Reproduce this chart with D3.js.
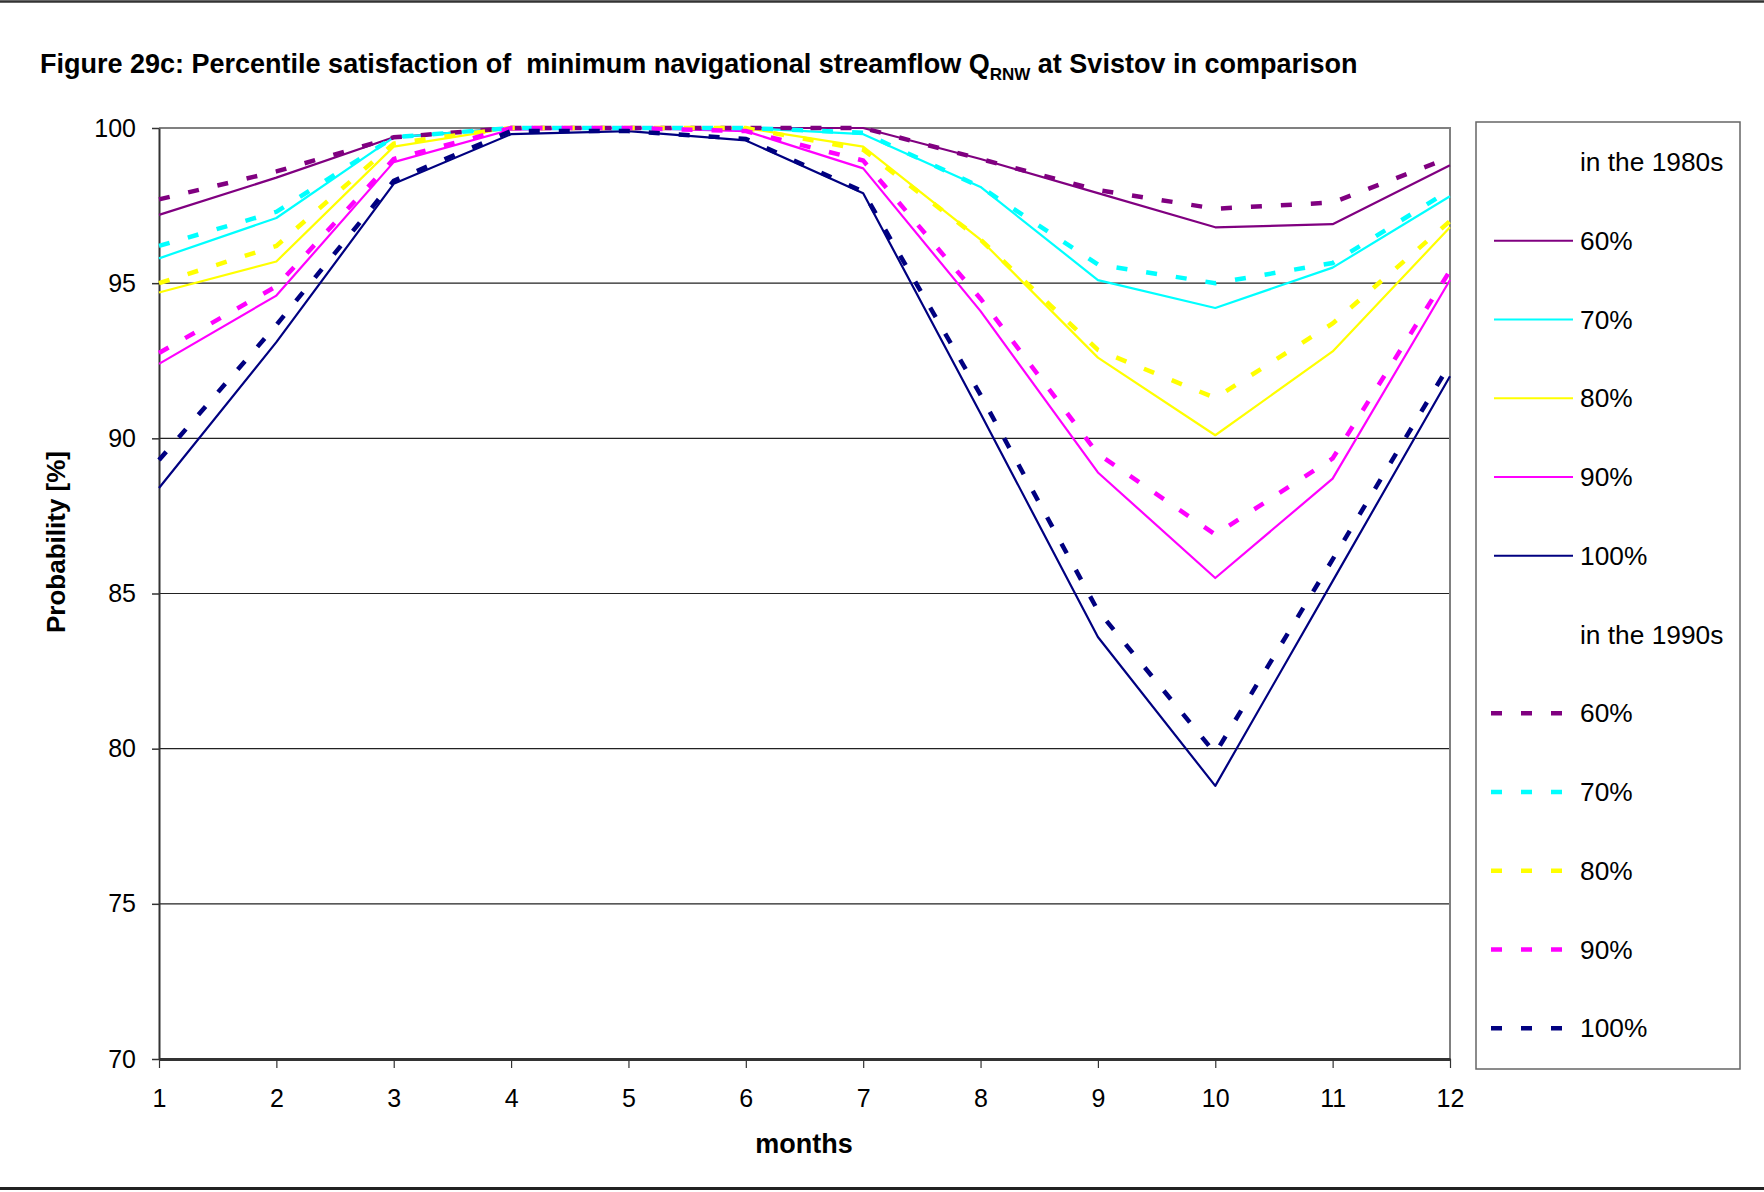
<!DOCTYPE html>
<meta charset="utf-8">
<head>
<title>Figure 29c</title>
<style>
body { margin: 0; background: #fff; }
svg text { font-family: "Liberation Sans", Arial, sans-serif; fill: #000; }
.axis path, .axis line { stroke: #333; }
</style>
</head>
<body>
<div id="chart"></div>
<script src="https://cdnjs.cloudflare.com/ajax/libs/d3/7.8.5/d3.min.js"></script>
<script>
var months = [1, 2, 3, 4, 5, 6, 7, 8, 9, 10, 11, 12];
var yTicks = [70, 75, 80, 85, 90, 95, 100];
var percentiles = ["60%", "70%", "80%", "90%", "100%"];
var colors = ["#800080", "#00ffff", "#ffff00", "#ff00ff", "#000080"];

// 1980s (solid)
var s80_60 = [97.2, 98.4, 99.7, 100, 100, 100, 100, 99.0, 97.9, 96.8, 96.9, 98.8];
var s80_70 = [95.8, 97.1, 99.7, 100, 100, 100, 99.8, 98.1, 95.1, 94.2, 95.5, 97.8];
var s80_80 = [94.7, 95.7, 99.4, 100, 100, 100, 99.4, 96.4, 92.6, 90.1, 92.8, 96.8];
var s80_90 = [92.4, 94.6, 98.9, 99.95, 100, 99.9, 98.7, 94.1, 88.9, 85.5, 88.7, 95.1];
var s80_100 = [88.4, 93.1, 98.2, 99.8, 99.9, 99.6, 97.9, 90.8, 83.6, 78.8, 85.4, 92.0];
// 1990s (dashed)
var s90_60 = [97.7, 98.6, 99.7, 100, 100, 100, 100, 99.0, 98.0, 97.4, 97.6, 99.05];
var s90_70 = [96.2, 97.3, 99.7, 100, 100, 100, 99.85, 98.1, 95.6, 95.0, 95.65, 98.0];
var s90_80 = [95.0, 96.2, 99.5, 100, 100, 100, 99.3, 96.4, 92.85, 91.3, 93.7, 97.0];
var s90_90 = [92.75, 94.9, 99.0, 100, 100, 99.9, 98.95, 94.5, 89.5, 86.9, 89.35, 95.4];
var s90_100 = [89.3, 93.65, 98.3, 99.9, 99.9, 99.65, 97.95, 91.4, 84.45, 79.85, 86.1, 92.4];

var series80 = [s80_60, s80_70, s80_80, s80_90, s80_100];
var series90 = [s90_60, s90_70, s90_80, s90_90, s90_100];

var width = 1764, height = 1192;
var plotLeft = 159, plotTop = 128, plotRight = 1450, plotBottom = 1059;

var svg = d3.select("#chart").append("svg")
    .attr("width", width)
    .attr("height", height);

svg.append("rect").attr("width", width).attr("height", height).attr("fill", "#fff");

// page rules
svg.append("line").attr("x1", 0).attr("x2", width).attr("y1", 1.5).attr("y2", 1.5)
    .attr("stroke", "#333").attr("stroke-width", 2.5);
svg.append("line").attr("x1", 0).attr("x2", width).attr("y1", 1188.5).attr("y2", 1188.5)
    .attr("stroke", "#222").attr("stroke-width", 3);

// title
var title = svg.append("text")
    .attr("x", 40).attr("y", 73)
    .style("font-size", "27px").style("font-weight", "bold")
    .style("white-space", "pre");
title.append("tspan").text("Figure 29c: Percentile satisfaction of  minimum navigational streamflow Q");
title.append("tspan").attr("dy", 7).style("font-size", "17px").text("RNW");
title.append("tspan").attr("dy", -7).text(" at Svistov in comparison");

var x = d3.scaleLinear().domain([1, 12]).range([plotLeft, plotRight]);
var y = d3.scaleLinear().domain([70, 100]).range([plotBottom, plotTop]);

// gridlines
svg.append("g").selectAll("line")
    .data(yTicks.filter(function(d) { return d > 70 && d < 100; }))
    .enter().append("line")
    .attr("x1", plotLeft).attr("x2", plotRight)
    .attr("y1", function(d) { return y(d); }).attr("y2", function(d) { return y(d); })
    .attr("stroke", "#222").attr("stroke-width", 1.2);

// plot frame (top and right grey)
svg.append("path")
    .attr("d", "M" + plotLeft + "," + plotTop + "H" + plotRight + "V" + plotBottom)
    .attr("fill", "none").attr("stroke", "#808080").attr("stroke-width", 2);

// y axis
var yAxis = svg.append("g").attr("class", "axis")
    .attr("transform", "translate(" + plotLeft + ",0)")
    .call(d3.axisLeft(y).tickValues(yTicks).tickSize(7).tickPadding(16).tickSizeOuter(0));
yAxis.select(".domain").attr("stroke", "#444").attr("stroke-width", 2);
yAxis.selectAll(".tick line").attr("stroke", "#444").attr("stroke-width", 1.5);
yAxis.selectAll("text").style("font-size", "25px").attr("fill", "#000");

// x axis
var xAxis = svg.append("g").attr("class", "axis")
    .attr("transform", "translate(0," + plotBottom + ")")
    .call(d3.axisBottom(x).tickValues(months).tickSize(9).tickPadding(21).tickSizeOuter(0));
xAxis.select(".domain").attr("stroke", "#555").attr("stroke-width", 3);
xAxis.selectAll(".tick line").attr("stroke", "#444").attr("stroke-width", 1.2);
xAxis.selectAll("text").style("font-size", "25px").attr("fill", "#000");

// axis titles
svg.append("text")
    .attr("x", 804).attr("y", 1153)
    .attr("text-anchor", "middle")
    .style("font-size", "27px").style("font-weight", "bold")
    .text("months");
svg.append("text")
    .attr("transform", "translate(65,542) rotate(-90)")
    .attr("text-anchor", "middle")
    .style("font-size", "26px").style("font-weight", "bold")
    .text("Probability [%]");

var line = d3.line()
    .x(function(d, i) { return x(months[i]); })
    .y(function(d) { return y(d); });

var plot = svg.append("g");
series80.forEach(function(s, i) {
    plot.append("path")
        .attr("d", line(s))
        .attr("fill", "none")
        .attr("stroke", colors[i])
        .attr("stroke-width", 2.2)
        .attr("stroke-linejoin", "round");
});
series90.forEach(function(s, i) {
    plot.append("path")
        .attr("d", line(s))
        .attr("fill", "none")
        .attr("stroke", colors[i])
        .attr("stroke-width", 4.5)
        .attr("stroke-dasharray", "11,19");
});

// legend
var legend = svg.append("g");
legend.append("rect")
    .attr("x", 1476).attr("y", 122)
    .attr("width", 264).attr("height", 947)
    .attr("fill", "#fff").attr("stroke", "#666").attr("stroke-width", 1.5);

var rowY = function(i) { return 162 + i * 78.75; };
var rows = [];
rows.push({ label: "in the 1980s", header: true });
percentiles.forEach(function(p, i) { rows.push({ label: p, color: colors[i], dashed: false }); });
rows.push({ label: "in the 1990s", header: true });
percentiles.forEach(function(p, i) { rows.push({ label: p, color: colors[i], dashed: true }); });

rows.forEach(function(r, i) {
    var cy = rowY(i);
    if (!r.header) {
        legend.append("line")
            .attr("x1", r.dashed ? 1491 : 1494).attr("x2", r.dashed ? 1563 : 1573)
            .attr("y1", cy).attr("y2", cy)
            .attr("stroke", r.color)
            .attr("stroke-width", r.dashed ? 4.5 : 2.2)
            .attr("stroke-dasharray", r.dashed ? "11,19" : null);
    }
    legend.append("text")
        .attr("x", 1580).attr("y", cy + 9)
        .style("font-size", "26.3px")
        .text(r.label);
});
</script>
</body>
